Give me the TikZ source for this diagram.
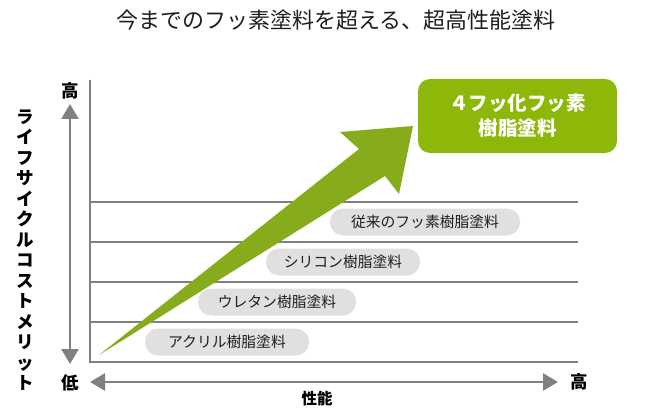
\documentclass[tikz,border=0pt]{standalone}
\usepackage{fontspec}
\setmainfont{Noto Sans CJK JP}
\newfontfamily\cjk{Noto Sans CJK JP}
\usetikzlibrary{arrows.meta}
\definecolor{gridgray}{RGB}{128,128,128}
\definecolor{pillgray}{RGB}{224,224,224}
\definecolor{boxgreen}{RGB}{141,184,10}
\definecolor{arrowgreen}{RGB}{135,172,27}
\definecolor{txtdark}{RGB}{30,30,30}
\tikzset{
  gridline/.style={draw=gridgray,line width=1.8pt},
  axisarrow/.style={draw=gridgray,line width=2.6pt,{Triangle[width=17pt,length=15pt]}-{Triangle[width=17pt,length=15pt]}},
  pill/.style={fill=pillgray,rounded corners=13pt,minimum height=27pt,inner sep=0pt,font=\cjk\fontsize{14.8}{16}\selectfont,text=txtdark},
  axislabel/.style={font=\cjk\bfseries\fontsize{17.5}{19}\selectfont,text=black,inner sep=0pt},
}
\begin{document}
\begin{tikzpicture}[x=1pt,y=-1pt]
\useasboundingbox (0,0) rectangle (646,412);
% title
\node[font=\cjk\fontsize{22}{24}\selectfont,text=txtdark,inner sep=0pt] (title) at (336,20) {今までのフッ素塗料を超える、超高性能塗料};
% grid
\draw[gridline] (90,80) -- (90,362) -- (578,362);
\foreach \yy in {202,242,282,322} {\draw[gridline] (90,\yy) -- (578,\yy);}
% pills
\node[pill,minimum width=190pt] (p4) at (425,222) {従来のフッ素樹脂塗料};
\node[pill,minimum width=154pt] (p3) at (343,262) {シリコン樹脂塗料};
\node[pill,minimum width=158pt] (p2) at (277,302) {ウレタン樹脂塗料};
\node[pill,minimum width=164pt] (p1) at (227,342) {アクリル樹脂塗料};
% big arrow
\fill[arrowgreen] (99,355) -- (359,149) -- (340,132) -- (413,126) -- (399,194) -- (385,176) -- cycle;
% green box
\node[fill=boxgreen,rounded corners=12pt,minimum width=199pt,minimum height=74pt,inner sep=0pt,align=center,text=white,font=\cjk\bfseries\fontsize{19.5}{25}\selectfont] (goal) at (517.5,116) {４フッ化フッ素\\樹脂塗料};
% vertical axis
\node[axislabel] (yhigh) at (70,91) {高};
\node[axislabel] (ylow) at (70,383) {低};
\coordinate (ytop) at (70,104);
\coordinate (ybot) at (70,364);
\draw[axisarrow] (ybot) -- (ytop);
\node[axislabel,align=center,font=\cjk\bfseries\fontsize{17.5}{20.5}\selectfont] (ylab) at (25,250) {ラ\\イ\\フ\\サ\\イ\\ク\\ル\\コ\\ス\\ト\\メ\\リ\\ッ\\ト};
% horizontal axis
\coordinate (xleft) at (90,382);
\coordinate (xright) at (558,382);
\draw[axisarrow] (xleft) -- (xright);
\node[axislabel] (xhigh) at (579,382) {高};
\node[axislabel,font=\cjk\bfseries\fontsize{15.5}{17}\selectfont] (xlab) at (317,399) {性能};
\end{tikzpicture}
\end{document}
